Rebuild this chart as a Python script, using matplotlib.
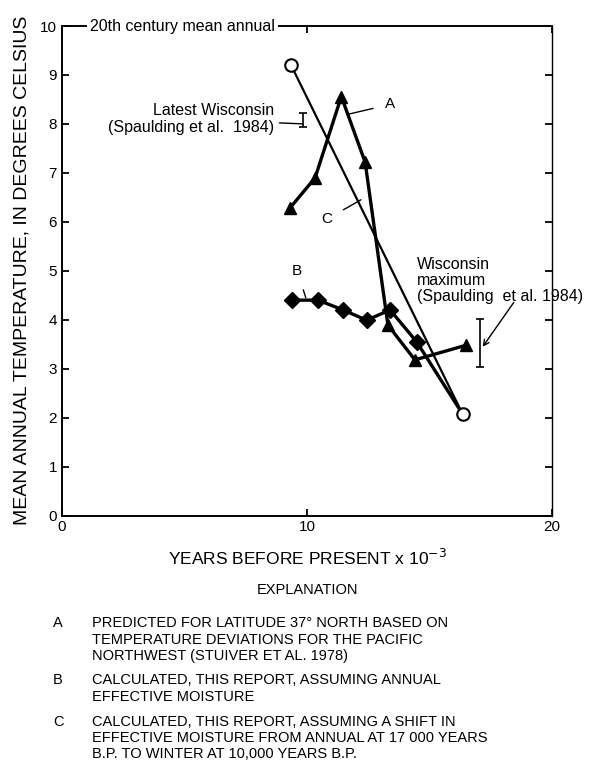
import numpy as np
import matplotlib
matplotlib.use("Agg")
import matplotlib.pyplot as plt

plt.rcParams['font.family'] = ['Liberation Sans', 'DejaVu Sans']

# curve A - predicted, latitude 37 N
a_years = [9.3, 10.33, 11.4, 12.37, 13.3, 14.4, 16.5]
a_temp = [6.28, 6.9, 8.56, 7.22, 3.89, 3.18, 3.48]

# curve B - calculated, annual effective moisture
b_years = [9.37, 10.45, 11.47, 12.43, 13.39, 14.47, 16.35]
b_temp = [4.40, 4.40, 4.20, 3.99, 4.20, 3.55, 2.07]
b_marked = 6  # last point has no marker

# curve C - calculated, shift in effective moisture
c_years = [9.35, 16.35]
c_temp = [9.2, 2.07]

# Spaulding et al. 1984 ranges
latest_wis = (9.85, 7.93, 8.22)
max_wis = (17.06, 3.03, 4.01)

explanation = [
    ("A", "PREDICTED FOR LATITUDE 37\u00b0 NORTH BASED ON\nTEMPERATURE DEVIATIONS FOR THE PACIFIC\nNORTHWEST (STUIVER ET AL. 1978)"),
    ("B", "CALCULATED, THIS REPORT, ASSUMING ANNUAL\nEFFECTIVE MOISTURE"),
    ("C", "CALCULATED, THIS REPORT, ASSUMING A SHIFT IN\nEFFECTIVE MOISTURE FROM ANNUAL AT 17 000 YEARS\nB.P. TO WINTER AT 10,000 YEARS B.P."),
]

fig = plt.figure(figsize=(5.95, 7.61), dpi=100)
ax = fig.add_axes([0.104, 0.3226, 0.824, 0.6432])

# C: straight line between open circles
ax.plot(c_years, c_temp, color='black', lw=1.6, marker='o', ms=9,
        mfc='white', mec='black', mew=1.5, zorder=4)
# A: triangles
ax.plot(a_years, a_temp, color='black', lw=2.4, marker='^', ms=8, zorder=3)
# B: diamonds
ax.plot(b_years, b_temp, color='black', lw=2.4, zorder=3)
ax.plot(b_years[:b_marked], b_temp[:b_marked], ls='none', marker='D', ms=8.5,
        color='black', zorder=3)

# range bars
for x, lo, hi in (latest_wis, max_wis):
    ax.errorbar([x], [(lo + hi) / 2], yerr=[[(hi - lo) / 2]], color='black',
                lw=1.2, capsize=3, capthick=1.2, fmt='none')

ax.set_xlim(0, 20)
ax.set_ylim(0, 10)
ax.set_xticks([0, 10, 20])
ax.set_yticks(range(0, 11))
ax.tick_params(direction='in', length=5, width=1.3, labelsize=11,
               top=True, right=True, labelright=False, labeltop=False)
for s in ax.spines.values():
    s.set_linewidth(1.4)
ax.spines['right'].set_linewidth(1.0)

ax.set_ylabel('MEAN ANNUAL TEMPERATURE, IN DEGREES CELSIUS', fontsize=14, labelpad=7)
ax.set_xlabel('YEARS BEFORE PRESENT x 10$^{-3}$', fontsize=12.5, labelpad=10)

# top line annotation
ax.text(1.15, 10, '20th century mean annual', fontsize=11.5, va='center', ha='left',
        bbox=dict(facecolor='white', edgecolor='none', pad=2), zorder=5)

# curve labels with leader lines
ax.annotate('A', xy=(11.7, 8.2), xytext=(13.4, 8.4), fontsize=11, ha='center', va='center',
            arrowprops=dict(arrowstyle='-', lw=1.0, shrinkA=7, shrinkB=0))
ax.annotate('C', xy=(12.2, 6.45), xytext=(10.8, 6.05), fontsize=11, ha='center', va='center',
            arrowprops=dict(arrowstyle='-', lw=1.0, shrinkA=7, shrinkB=0))
ax.annotate('B', xy=(9.95, 4.45), xytext=(9.6, 5.0), fontsize=11, ha='center', va='center',
            arrowprops=dict(arrowstyle='-', lw=1.0, shrinkA=7, shrinkB=0))

ax.annotate('Latest Wisconsin\n(Spaulding et al.  1984)', xy=(9.85, 8.0), xytext=(8.65, 8.1),
            fontsize=11.5, ha='right', va='center', linespacing=1.15,
            arrowprops=dict(arrowstyle='-', lw=1.0, shrinkA=2, shrinkB=0))
ax.text(14.5, 4.8, 'Wisconsin\nmaximum\n(Spaulding  et al. 1984)', fontsize=11.5,
        ha='left', va='center', linespacing=1.1)
ax.annotate('', xy=(17.1, 3.4), xytext=(18.5, 4.4),
            arrowprops=dict(arrowstyle='->', lw=1.0, color='black'))

# explanation block
fig.text(0.516, 0.225, 'EXPLANATION', fontsize=10.5, ha='center', va='center')
y0 = [0.190, 0.115, 0.061]
for (letter, txt), yy in zip(explanation, y0):
    fig.text(0.089, yy, letter, fontsize=10.5, ha='left', va='top')
    fig.text(0.155, yy, txt, fontsize=10.5, ha='left', va='top', linespacing=1.2)

fig.savefig('out.png', dpi=100)
